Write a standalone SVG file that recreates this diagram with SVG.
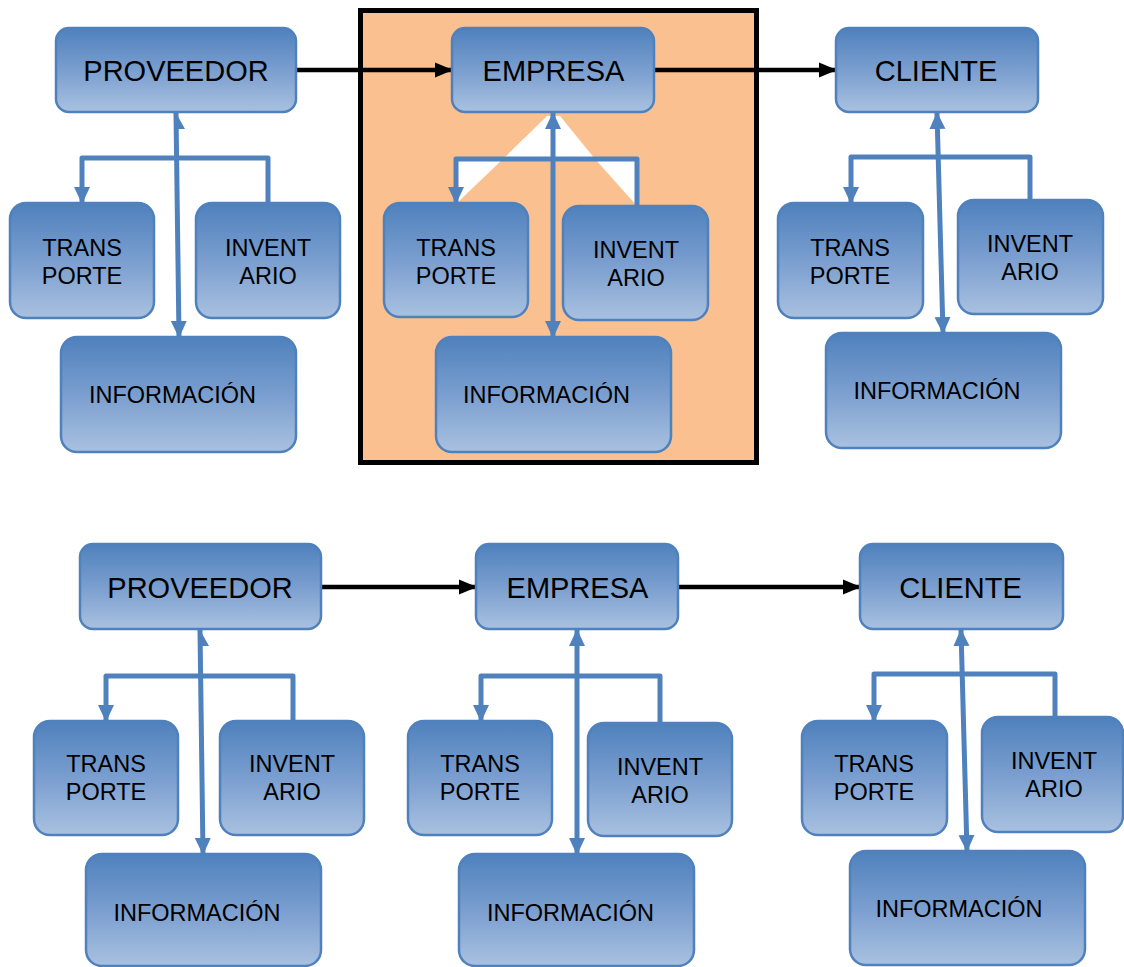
<svg xmlns="http://www.w3.org/2000/svg" width="1124" height="967" viewBox="0 0 1124 967">
<defs>
<linearGradient id="g" x1="0" y1="0" x2="0" y2="1">
<stop offset="0" stop-color="#4F81BD"/>
<stop offset="0.5" stop-color="#7A9ECF"/>
<stop offset="1" stop-color="#A9C1E0"/>
</linearGradient>
<marker id="ab" markerUnits="userSpaceOnUse" markerWidth="17" markerHeight="17" refX="16" refY="8.5" orient="auto-start-reverse">
<path d="M0,0.5 L17,8.5 L0,16.5 z" fill="#4F81BD"/>
</marker>
<marker id="ak" markerUnits="userSpaceOnUse" markerWidth="18" markerHeight="17" refX="17" refY="8.5" orient="auto">
<path d="M0,1 L18,8.5 L0,16 z" fill="#000"/>
</marker>
<style>
.n rect{fill:url(#g);stroke:#4F81BD;stroke-width:2.5}
.n text{font-family:"Liberation Sans",Arial,sans-serif;fill:#000;text-anchor:middle}
.big{font-size:29px}
.sm{font-size:23.5px}
.bl{fill:none;stroke:#4F81BD;stroke-width:5;stroke-linejoin:round}
.bk{fill:none;stroke:#000;stroke-width:4.5}
</style>
</defs>
<rect x="0" y="0" width="1124" height="967" fill="#fff"/>
<g id="frame">
<rect x="360.5" y="10.5" width="396" height="452" fill="#FAC090" stroke="#000" stroke-width="5"/>
<polygon points="547,116 560,116 595,159 503,159" fill="#fff"/>
<polygon points="457,159 503,159 457,203" fill="#fff"/>
<polygon points="595,159 637,159 637,206" fill="#fff"/>
</g>
<g id="connectors">
<line class="bk" x1="296" y1="70" x2="452" y2="70" marker-end="url(#ak)"/>
<line class="bk" x1="654" y1="70" x2="836" y2="70" marker-end="url(#ak)"/>
<line class="bk" x1="321" y1="587" x2="476" y2="587" marker-end="url(#ak)"/>
<line class="bk" x1="678" y1="587" x2="860" y2="587" marker-end="url(#ak)"/>
<path class="bl" d="M268,203 V158 H82 V203" marker-end="url(#ab)"/>
<path class="bl" d="M637,206 V159 H456 V203" marker-end="url(#ab)"/>
<path class="bl" d="M1030,200 V157 H851 V203" marker-end="url(#ab)"/>
<path class="bl" d="M293,721 V676 H106 V721" marker-end="url(#ab)"/>
<path class="bl" d="M660,723 V676 H481 V721" marker-end="url(#ab)"/>
<path class="bl" d="M1055,717 V674 H874 V721" marker-end="url(#ab)"/>
<line class="bl" x1="176" y1="113" x2="179" y2="337" marker-end="url(#ab)"/>
<polygon points="176,113 185,129 177,129" fill="#4F81BD"/>
<line class="bl" x1="553" y1="113" x2="553" y2="337" marker-start="url(#ab)" marker-end="url(#ab)"/>
<line class="bl" x1="937" y1="113" x2="943" y2="333" marker-start="url(#ab)" marker-end="url(#ab)"/>
<line class="bl" x1="200" y1="630" x2="203" y2="854" marker-end="url(#ab)"/>
<polygon points="200,630 209,646 201,646" fill="#4F81BD"/>
<line class="bl" x1="577" y1="630" x2="577" y2="854" marker-start="url(#ab)" marker-end="url(#ab)"/>
<line class="bl" x1="961" y1="630" x2="967" y2="851" marker-start="url(#ab)" marker-end="url(#ab)"/>
</g>
<g id="top-proveedor" class="n"><rect x="56" y="28" width="240" height="84" rx="13"/><text class="big" x="176" y="81">PROVEEDOR</text></g>
<g id="top-proveedor-transporte" class="n"><rect x="10" y="203" width="144" height="115" rx="16"/><text class="sm" x="82" y="256">TRANS</text><text class="sm" x="82" y="284">PORTE</text></g>
<g id="top-proveedor-inventario" class="n"><rect x="196" y="203" width="144" height="115" rx="16"/><text class="sm" x="268" y="256">INVENT</text><text class="sm" x="268" y="284">ARIO</text></g>
<g id="top-proveedor-informacion" class="n"><rect x="61" y="337" width="235" height="115" rx="16"/><text class="sm" x="172.5" y="403">INFORMACIÓN</text></g>

<g id="top-empresa" class="n"><rect x="452" y="28" width="202" height="84" rx="13"/><text class="big" x="553.5" y="81">EMPRESA</text></g>
<g id="top-empresa-transporte" class="n"><rect x="384" y="203" width="144" height="114" rx="16"/><text class="sm" x="456" y="256">TRANS</text><text class="sm" x="456" y="284">PORTE</text></g>
<g id="top-empresa-inventario" class="n"><rect x="563" y="206" width="145" height="114" rx="16"/><text class="sm" x="636" y="258">INVENT</text><text class="sm" x="636" y="286">ARIO</text></g>
<g id="top-empresa-informacion" class="n"><rect x="436" y="337" width="235" height="115" rx="16"/><text class="sm" x="546.5" y="403">INFORMACIÓN</text></g>

<g id="top-cliente" class="n"><rect x="836" y="28" width="202" height="84" rx="13"/><text class="big" x="936" y="81">CLIENTE</text></g>
<g id="top-cliente-transporte" class="n"><rect x="778" y="203" width="145" height="115" rx="16"/><text class="sm" x="850" y="256">TRANS</text><text class="sm" x="850" y="284">PORTE</text></g>
<g id="top-cliente-inventario" class="n"><rect x="958" y="200" width="145" height="114" rx="16"/><text class="sm" x="1030" y="252">INVENT</text><text class="sm" x="1030" y="280">ARIO</text></g>
<g id="top-cliente-informacion" class="n"><rect x="826" y="333" width="235" height="115" rx="16"/><text class="sm" x="937" y="399">INFORMACIÓN</text></g>

<g id="bot-proveedor" class="n"><rect x="80" y="544" width="241" height="85" rx="13"/><text class="big" x="200" y="598">PROVEEDOR</text></g>
<g id="bot-proveedor-transporte" class="n"><rect x="34" y="721" width="144" height="114" rx="16"/><text class="sm" x="106" y="772">TRANS</text><text class="sm" x="106" y="800">PORTE</text></g>
<g id="bot-proveedor-inventario" class="n"><rect x="220" y="721" width="144" height="114" rx="16"/><text class="sm" x="292" y="772">INVENT</text><text class="sm" x="292" y="800">ARIO</text></g>
<g id="bot-proveedor-informacion" class="n"><rect x="86" y="854" width="235" height="112" rx="16"/><text class="sm" x="197" y="921">INFORMACIÓN</text></g>

<g id="bot-empresa" class="n"><rect x="476" y="544" width="202" height="85" rx="13"/><text class="big" x="577.5" y="598">EMPRESA</text></g>
<g id="bot-empresa-transporte" class="n"><rect x="408" y="721" width="144" height="114" rx="16"/><text class="sm" x="480" y="772">TRANS</text><text class="sm" x="480" y="800">PORTE</text></g>
<g id="bot-empresa-inventario" class="n"><rect x="588" y="723" width="144" height="113" rx="16"/><text class="sm" x="660" y="775">INVENT</text><text class="sm" x="660" y="803">ARIO</text></g>
<g id="bot-empresa-informacion" class="n"><rect x="459" y="854" width="235" height="112" rx="16"/><text class="sm" x="570.5" y="921">INFORMACIÓN</text></g>

<g id="bot-cliente" class="n"><rect x="860" y="544" width="203" height="85" rx="13"/><text class="big" x="960.5" y="598">CLIENTE</text></g>
<g id="bot-cliente-transporte" class="n"><rect x="802" y="721" width="145" height="114" rx="16"/><text class="sm" x="874" y="772">TRANS</text><text class="sm" x="874" y="800">PORTE</text></g>
<g id="bot-cliente-inventario" class="n"><rect x="982" y="717" width="141" height="115" rx="16"/><text class="sm" x="1054" y="769">INVENT</text><text class="sm" x="1054" y="797">ARIO</text></g>
<g id="bot-cliente-informacion" class="n"><rect x="850" y="851" width="235" height="114" rx="16"/><text class="sm" x="959" y="917">INFORMACIÓN</text></g>
</svg>
